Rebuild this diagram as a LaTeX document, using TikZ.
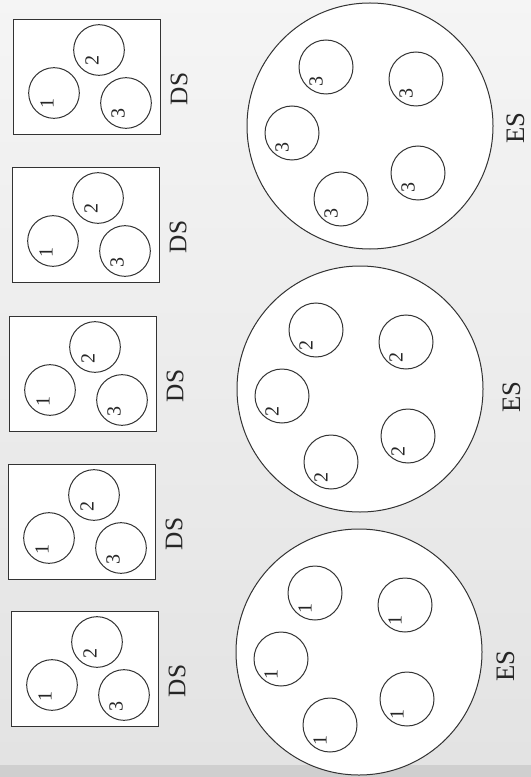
\documentclass[tikz,border=0pt]{standalone}
\usepackage{fontspec}
\setmainfont{Liberation Serif}
\usetikzlibrary{calc}
\begin{document}
\begin{tikzpicture}[x=0.75pt,y=-0.75pt,line width=0.75pt,
  frame/.style={draw=black!80, fill=white, anchor=north west, minimum width=110.25pt, minimum height=86.25pt, inner sep=0pt},
  cell/.style={circle, draw=black!80, fill=white, minimum size=38pt, inner sep=0pt},
  ecell/.style={circle, draw=black!80, fill=white, minimum size=40.5pt, inner sep=0pt},
  big/.style={circle, draw=black!80, fill=white, minimum size=184.5pt, inner sep=0pt},
  dig/.style={rotate=90, font=\fontsize{15}{15}\selectfont, text=black!85, inner sep=0pt},
  dslab/.style={rotate=90, font=\fontsize{19}{19}\selectfont, text=black!85, inner sep=0pt},
  eslab/.style={rotate=90, font=\fontsize{20}{20}\selectfont, text=black!85, inner sep=0pt}]
\shade[top color=gray!8, bottom color=gray!22] (0,0) rectangle (531,765);
\fill[gray!38] (0,765) rectangle (531,777);
\useasboundingbox (0,0) rectangle (531,777);
% DS boxes
\foreach \l/\t [count=\i] in {13/19,12/167,9/316,8/464,11/611} {
  \begin{scope}[shift={(\l,\t)}]
    \node[frame] (ds\i) at (0,0) {};
    \node[cell] (ds\i a) at (41,74) {};
    \node[cell] (ds\i b) at (86,31) {};
    \node[cell] (ds\i c) at (113,84) {};
    \node[dig] (ds\i na) at ($(ds\i a)+(-7,11)$) {1};
    \node[dig] (ds\i nb) at ($(ds\i b)+(-7,11)$) {2};
    \node[dig] (ds\i nc) at ($(ds\i c)+(-8,11)$) {3};
    \node[dslab] (ds\i l) at (166,70) {DS};
  \end{scope}
}
% ES circles
\foreach \cx/\cy/\lx/\ly/\d [count=\i] in {370/126/516/128/3, 360/389/512/397/2, 359/652/506/666/1} {
  \node[big] (es\i) at (\cx,\cy) {};
  \foreach \ox/\oy [count=\j] in {-44/-59, 46/-47, -78/7, 48/47, -29/73} {
    \node[ecell] (es\i c\j) at ($(es\i)+(\ox,\oy)$) {};
    \node[dig] (es\i n\j) at ($(es\i c\j)+(-10,15)$) {\d};
  }
  \node[eslab] (es\i l) at (\lx,\ly) {ES};
}
\end{tikzpicture}
\end{document}
